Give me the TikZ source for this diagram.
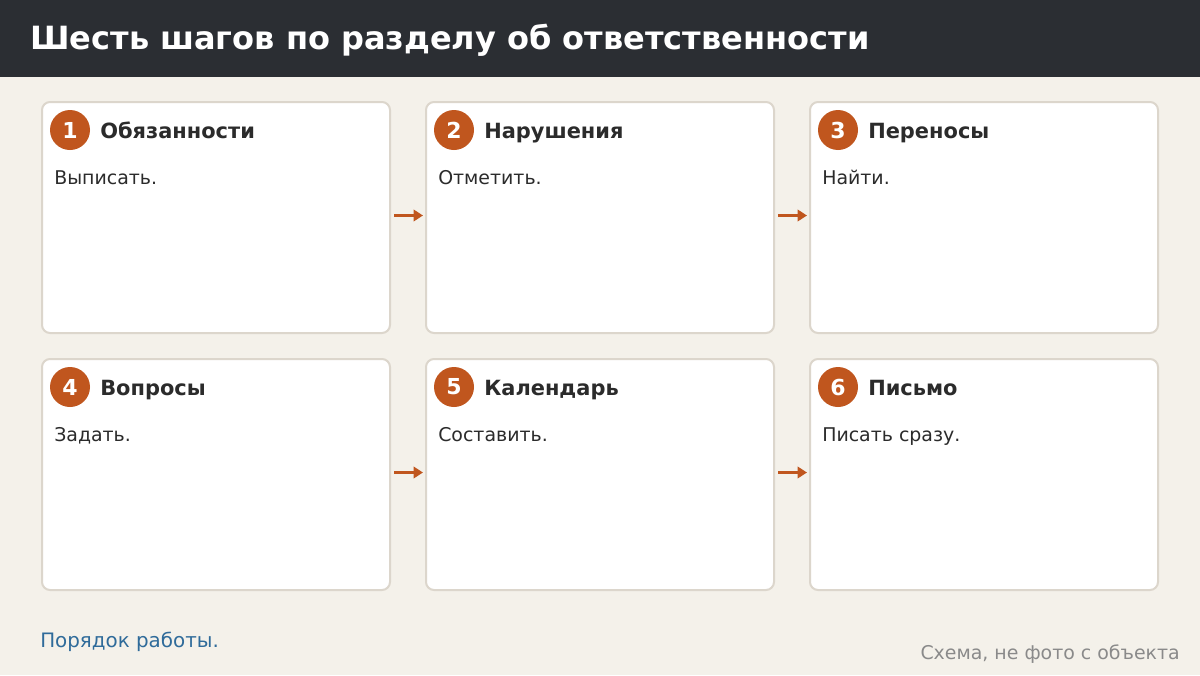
\documentclass[tikz,border=0pt]{standalone}
\usepackage{fontspec}
\setmainfont{DejaVu Sans}
\usetikzlibrary{arrows.meta}
\definecolor{barcol}{HTML}{2B2E33}
\definecolor{bgcol}{HTML}{F4F1EA}
\definecolor{edgecol}{HTML}{DCD6CC}
\definecolor{rust}{HTML}{C0561E}
\definecolor{ink}{HTML}{2B2B2B}
\definecolor{linkcol}{HTML}{2F6B9A}
\definecolor{notecol}{HTML}{8A8A8A}
\begin{document}
\begin{tikzpicture}[x=0.75pt, y=-0.75pt,
  card/.style={draw=edgecol, line width=1.5pt, fill=white, rounded corners=6pt, minimum width=261pt, minimum height=173.25pt, anchor=north west, inner sep=0pt},
  num/.style={circle, fill=rust, text=white, minimum size=30pt, inner sep=0pt, font=\bfseries\fontsize{16.5}{18}\selectfont},
  head/.style={anchor=base west, text=ink, inner sep=0pt, font=\bfseries\fontsize{15.7}{18}\selectfont},
  body/.style={anchor=base west, text=ink, inner sep=0pt, font=\fontsize{14.2}{16}\selectfont},
  arr/.style={-{Triangle[length=7pt, width=8.5pt]}, rust, line width=2.8pt, shorten <=2.25pt, shorten >=1.5pt}]
\useasboundingbox (0,0) rectangle (1200,675);
\fill[bgcol] (0,0) rectangle (1200,675);
\fill[barcol] (0,0) rectangle (1200,77);
\node[anchor=base west, inner sep=0pt, text=white, font=\bfseries\fontsize{24}{28}\selectfont] (title) at (30,49) {Шесть шагов по разделу об ответственности};

% first row
\node[card] (c1) at (41,101) {};
\node[card] (c2) at (425,101) {};
\node[card] (c3) at (809,101) {};
\node[num] (n1) at (70,130) {1};
\node[num] (n2) at (454,130) {2};
\node[num] (n3) at (838,130) {3};
\node[head] (h1) at (100,138) {Обязанности};
\node[head] (h2) at (484,138) {Нарушения};
\node[head] (h3) at (868,138) {Переносы};
\node[body] (b1) at (54,184) {Выписать.};
\node[body] (b2) at (438,184) {Отметить.};
\node[body] (b3) at (822,184) {Найти.};

% second row
\node[card] (c4) at (41,358) {};
\node[card] (c5) at (425,358) {};
\node[card] (c6) at (809,358) {};
\node[num] (n4) at (70,387) {4};
\node[num] (n5) at (454,387) {5};
\node[num] (n6) at (838,387) {6};
\node[head] (h4) at (100,395) {Вопросы};
\node[head] (h5) at (484,395) {Календарь};
\node[head] (h6) at (868,395) {Письмо};
\node[body] (b4) at (54,441) {Задать.};
\node[body] (b5) at (438,441) {Составить.};
\node[body] (b6) at (822,441) {Писать сразу.};

\draw[arr] ([yshift=1.5pt]c1.east) -- ([yshift=1.5pt]c2.west);
\draw[arr] ([yshift=1.5pt]c2.east) -- ([yshift=1.5pt]c3.west);
\draw[arr] ([yshift=1.5pt]c4.east) -- ([yshift=1.5pt]c5.west);
\draw[arr] ([yshift=1.5pt]c5.east) -- ([yshift=1.5pt]c6.west);

\node[anchor=base west, inner sep=0pt, text=linkcol, font=\fontsize{14.9}{17}\selectfont] (foot) at (40,647) {Порядок работы.};
\node[anchor=base east, inner sep=0pt, text=notecol, font=\fontsize{14.2}{16}\selectfont] (note) at (1180,659) {Схема, не фото с объекта};
\end{tikzpicture}
\end{document}
